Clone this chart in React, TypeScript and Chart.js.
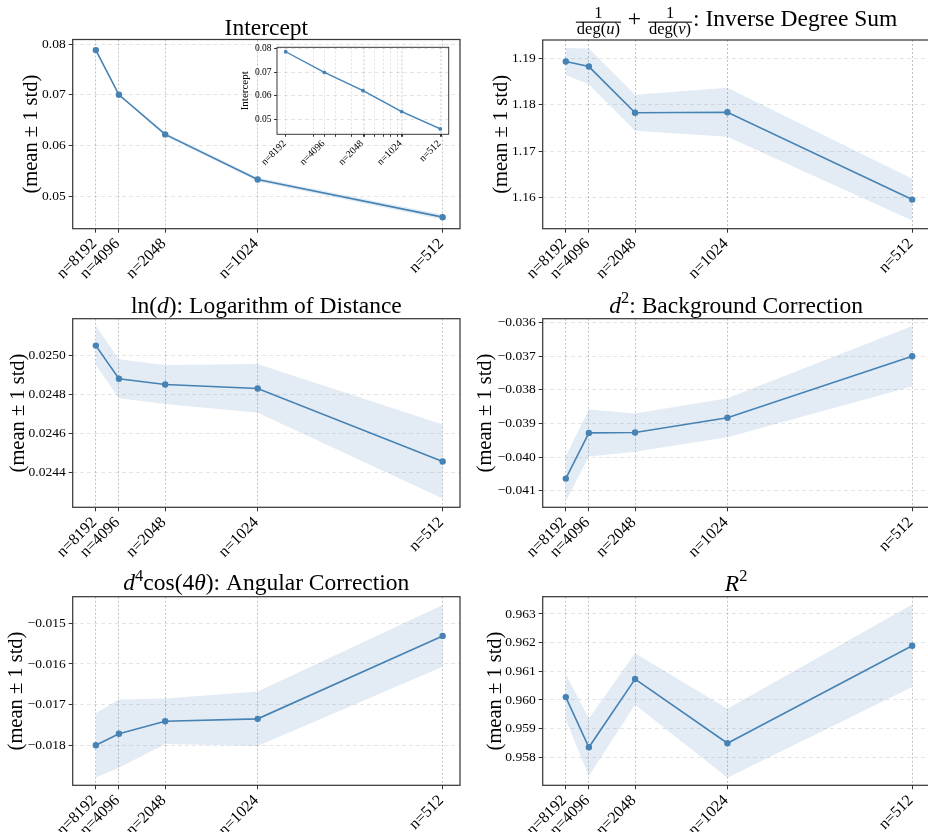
import React, { useEffect, useRef } from 'react';
import { Chart, registerables } from 'chart.js';

Chart.register(...registerables);

// ---------------- data ----------------
const nValues = [8192, 4096, 2048, 1024, 512];
const xLabels = ['n=8192', 'n=4096', 'n=2048', 'n=1024', 'n=512'];
const invN = nValues.map((n) => 1 / n);

const interceptMean = [0.0788, 0.07, 0.0622, 0.0533, 0.0459];
const interceptStd = [0.0002, 0.0002, 0.0003, 0.0004, 0.0005];

const invDegMean = [1.1894, 1.1883, 1.1783, 1.1784, 1.1595];
const invDegStd = [0.0029, 0.0039, 0.0039, 0.0053, 0.0045];

const lnDMean = [0.02505, 0.02488, 0.02485, 0.02483, 0.024455];
const lnDStd = [0.0001, 0.0001, 0.0001, 0.000125, 0.00019];

const d2Mean = [-0.04064, -0.03928, -0.03927, -0.03883, -0.037];
const d2Std = [0.00067, 0.0007, 0.00057, 0.00058, 0.0009];

const d4Mean = [-0.018, -0.017715, -0.01741, -0.01735, -0.01531];
const d4Std = [0.00079, 0.00084, 0.00056, 0.00067, 0.00076];

const r2Mean = [0.9601, 0.95835, 0.96073, 0.95849, 0.96189];
const r2Std = [0.0008, 0.001, 0.0009, 0.0012, 0.00144];

const yTicks1 = [0.05, 0.06, 0.07, 0.08];
const yLabels1 = ['0.05', '0.06', '0.07', '0.08'];
const yTicks2 = [1.16, 1.17, 1.18, 1.19];
const yLabels2 = ['1.16', '1.17', '1.18', '1.19'];
const yTicks3 = [0.0244, 0.0246, 0.0248, 0.025];
const yLabels3 = ['0.0244', '0.0246', '0.0248', '0.0250'];
const yTicks4 = [-0.041, -0.04, -0.039, -0.038, -0.037, -0.036];
const yLabels4 = ['\u22120.041', '\u22120.040', '\u22120.039', '\u22120.038', '\u22120.037', '\u22120.036'];
const yTicks5 = [-0.018, -0.017, -0.016, -0.015];
const yLabels5 = ['\u22120.018', '\u22120.017', '\u22120.016', '\u22120.015'];
const yTicks6 = [0.958, 0.959, 0.96, 0.961, 0.962, 0.963];
const yLabels6 = ['0.958', '0.959', '0.960', '0.961', '0.962', '0.963'];

const insetYTicks = [0.05, 0.06, 0.07, 0.08];
const insetYLabels = ['0.05', '0.06', '0.07', '0.08'];
const insetMinorX = [2e-4, 3e-4, 4e-4, 5e-4, 6e-4, 7e-4, 8e-4, 9e-4, 1e-3, 2e-3];

const yLabelText = '(mean \u00b1 1 std)';

// ---------------- style / layout ----------------
const FONT = '"Liberation Serif", "Times New Roman", serif';
const LINE = '#4682B4';
const BAND = 'rgba(70,130,180,0.15)';
const CW = 940;
const CH = 900;
const X_MAX_MAIN = 16.75 / 8192;

type Seg = { t?: string; it?: boolean; sup?: boolean; frac?: [Seg[], Seg[]] };

type PanelCfg = {
  mean: number[];
  std: number[];
  rect: [number, number, number, number]; // left, top, right, bottom
  yMin: number;
  yMax: number;
  yTicks: number[];
  yLabels: string[];
  title?: Seg[];
  titleY?: number;
  ylabel: string;
  ylabelX: number;
  ylabelSize: number;
};

const panels: PanelCfg[] = [
  {
    mean: interceptMean, std: interceptStd, rect: [72.7, 39.5, 460, 228.7],
    yMin: 0.04362, yMax: 0.08089, yTicks: yTicks1, yLabels: yLabels1,
    title: [{ t: 'Intercept' }], titleY: 35, ylabel: yLabelText, ylabelX: 31.7, ylabelSize: 20.5,
  },
  {
    mean: invDegMean, std: invDegStd, rect: [542.7, 40, 929.5, 228.7],
    yMin: 1.1532, yMax: 1.19405, yTicks: yTicks2, yLabels: yLabels2,
    title: [
      { frac: [[{ t: '1' }], [{ t: 'deg(' }, { t: 'u', it: true }, { t: ')' }]] },
      { t: ' + ' },
      { frac: [[{ t: '1' }], [{ t: 'deg(' }, { t: 'v', it: true }, { t: ')' }]] },
      { t: ': Inverse Degree Sum' },
    ],
    titleY: 26, ylabel: yLabelText, ylabelX: 501.3, ylabelSize: 20.5,
  },
  {
    mean: lnDMean, std: lnDStd, rect: [72.7, 318.7, 460, 507.3],
    yMin: 0.02422, yMax: 0.025188, yTicks: yTicks3, yLabels: yLabels3,
    title: [{ t: 'ln(' }, { t: 'd', it: true }, { t: '): Logarithm of Distance' }],
    titleY: 312.7, ylabel: yLabelText, ylabelX: 18.3, ylabelSize: 20.5,
  },
  {
    mean: d2Mean, std: d2Std, rect: [542.7, 318.7, 929.5, 507.3],
    yMin: -0.041494, yMax: -0.035881, yTicks: yTicks4, yLabels: yLabels4,
    title: [{ t: 'd', it: true }, { t: '2', sup: true }, { t: ': Background Correction' }],
    titleY: 312.7, ylabel: yLabelText, ylabelX: 485.7, ylabelSize: 20.5,
  },
  {
    mean: d4Mean, std: d4Std, rect: [72.7, 596.7, 460, 785.3],
    yMin: -0.018984, yMax: -0.014346, yTicks: yTicks5, yLabels: yLabels5,
    title: [
      { t: 'd', it: true }, { t: '4', sup: true }, { t: 'cos(4' }, { t: '\u03b8', it: true },
      { t: '): Angular Correction' },
    ],
    titleY: 590, ylabel: yLabelText, ylabelX: 16.5, ylabelSize: 20.5,
  },
  {
    mean: r2Mean, std: r2Std, rect: [542.7, 596.7, 929.5, 785.3],
    yMin: 0.957023, yMax: 0.963603, yTicks: yTicks6, yLabels: yLabels6,
    title: [{ t: 'R', it: true }, { t: '2', sup: true }],
    titleY: 590.7, ylabel: yLabelText, ylabelX: 495.3, ylabelSize: 20.5,
  },
];

const TITLE_SIZE = 23.5;
const FRAC_SIZE = 16.5;

function segFont(size: number, it?: boolean) {
  return `${it ? 'italic ' : ''}${size}px ${FONT}`;
}

function measureSegs(ctx: CanvasRenderingContext2D, segs: Seg[], size: number): number {
  let w = 0;
  for (const s of segs) {
    if (s.frac) {
      const wn = measureSegs(ctx, s.frac[0], FRAC_SIZE);
      const wd = measureSegs(ctx, s.frac[1], FRAC_SIZE);
      w += Math.max(wn, wd) + 4;
    } else {
      ctx.font = segFont(s.sup ? size * 0.7 : size, s.it);
      w += ctx.measureText(s.t || '').width;
    }
  }
  return w;
}

function drawSegs(ctx: CanvasRenderingContext2D, segs: Seg[], x0: number, y: number, size: number) {
  let x = x0;
  for (const s of segs) {
    if (s.frac) {
      const wn = measureSegs(ctx, s.frac[0], FRAC_SIZE);
      const wd = measureSegs(ctx, s.frac[1], FRAC_SIZE);
      const fw = Math.max(wn, wd) + 4;
      drawSegs(ctx, s.frac[0], x + (fw - wn) / 2, y - 8.5, FRAC_SIZE);
      drawSegs(ctx, s.frac[1], x + (fw - wd) / 2, y + 7.8, FRAC_SIZE);
      ctx.fillRect(x + 1, y - 4.4, fw - 2, 1.1);
      x += fw;
    } else {
      const fs = s.sup ? size * 0.7 : size;
      ctx.font = segFont(fs, s.it);
      ctx.textAlign = 'left';
      ctx.textBaseline = 'alphabetic';
      ctx.fillText(s.t || '', x, s.sup ? y - size * 0.4 : y);
      x += ctx.measureText(s.t || '').width;
    }
  }
}

function findLabel(v: number, vals: number[], labels: string[]) {
  for (let i = 0; i < vals.length; i++) {
    if (Math.abs(v - vals[i]) <= Math.abs(vals[i]) * 1e-6 + 1e-12) return labels[i];
  }
  return '';
}

function buildConfig(p: PanelCfg, insetMode: boolean): any {
  const pts = (arr: number[]) => arr.map((y, i) => ({ x: invN[i], y }));
  const upper = p.mean.map((m, i) => m + p.std[i]);
  const lower = p.mean.map((m, i) => m - p.std[i]);
  const [L, T, R, B] = p.rect;
  const xTickVals = insetMode ? [...invN, ...insetMinorX] : invN;
  const yAxisW = insetMode ? 30 : 70;
  const xAxisH = insetMode ? 40 : 80;

  return {
    type: 'line',
    data: {
      datasets: [
        {
          data: pts(p.mean),
          borderColor: LINE,
          borderWidth: insetMode ? 1.3 : 1.6,
          pointRadius: insetMode ? 1.9 : 3.2,
          pointHoverRadius: insetMode ? 1.9 : 3.2,
          pointBackgroundColor: LINE,
          pointBorderWidth: 0,
          fill: false,
          order: 0,
        },
        {
          data: pts(upper),
          borderColor: 'transparent',
          pointRadius: 0,
          pointHoverRadius: 0,
          fill: '+1',
          backgroundColor: BAND,
          order: 1,
        },
        {
          data: pts(lower),
          borderColor: 'transparent',
          pointRadius: 0,
          pointHoverRadius: 0,
          fill: false,
          order: 2,
        },
      ],
    },
    options: {
      animation: false,
      responsive: false,
      devicePixelRatio: 1,
      events: [],
      layout: {
        padding: { left: L - yAxisW, top: T, right: CW - R, bottom: CH - B - xAxisH },
        autoPadding: false,
      },
      plugins: { legend: { display: false }, title: { display: false }, tooltip: { enabled: false } },
      scales: {
        x: {
          type: insetMode ? 'logarithmic' : 'linear',
          min: insetMode ? (1 / 8192) * Math.pow(2, -0.225) : 0,
          max: insetMode ? (1 / 512) * Math.pow(2, 0.217) : X_MAX_MAIN,
          bounds: 'data',
          afterBuildTicks: (s: any) => {
            s.ticks = xTickVals.map((v) => ({ value: v }));
          },
          afterFit: (s: any) => {
            s.height = xAxisH;
          },
          ticks: {
            autoSkip: false,
            minRotation: 45,
            maxRotation: 45,
            padding: insetMode ? 1 : 2,
            labelOffset: insetMode ? -1 : -1.5,
            color: '#000',
            font: { family: FONT, size: insetMode ? 10 : 16 },
            callback: (v: any) => findLabel(Number(v), invN, xLabels),
          },
          grid: {
            color: insetMode ? 'rgba(0,0,0,0.14)' : 'rgba(0,0,0,0.3)',
            lineWidth: 0.8,
            tickLength: insetMode ? 2.5 : 4,
            tickColor: '#000',
            tickWidth: 0.8,
          },
          border: { display: false, dash: [2, 2] },
        },
        y: {
          type: 'linear',
          min: p.yMin,
          max: p.yMax,
          afterBuildTicks: (s: any) => {
            s.ticks = p.yTicks.map((v) => ({ value: v }));
          },
          afterFit: (s: any) => {
            s.width = yAxisW;
          },
          ticks: {
            autoSkip: false,
            padding: insetMode ? 2.5 : 3,
            color: '#000',
            font: { family: FONT, size: insetMode ? 9.5 : 13.5 },
            callback: (v: any) => findLabel(Number(v), p.yTicks, p.yLabels),
          },
          grid: {
            color: 'rgba(0,0,0,0.13)',
            lineWidth: 0.8,
            tickLength: insetMode ? 3 : 4,
            tickColor: '#000',
            tickWidth: 0.8,
          },
          border: { display: false, dash: [4, 3] },
        },
      },
    },
    plugins: [
      {
        id: 'decor',
        beforeDraw(chart: any) {
          if (!insetMode) return;
          const { ctx, chartArea: a } = chart;
          ctx.save();
          ctx.fillStyle = '#fff';
          ctx.fillRect(a.left, a.top, a.right - a.left, a.bottom - a.top);
          ctx.restore();
        },
        afterDatasetsDraw(chart: any) {
          const { ctx, chartArea: a } = chart;
          ctx.save();
          ctx.strokeStyle = '#3a3a3a';
          ctx.lineWidth = insetMode ? 1 : 1.25;
          ctx.strokeRect(a.left, a.top, a.right - a.left, a.bottom - a.top);
          ctx.restore();
        },
        afterDraw(chart: any) {
          const { ctx, chartArea: a } = chart;
          ctx.save();
          ctx.fillStyle = '#000';
          if (p.title) {
            const w = measureSegs(ctx, p.title, TITLE_SIZE);
            const cx = (a.left + a.right) / 2;
            drawSegs(ctx, p.title, cx - w / 2, p.titleY as number, TITLE_SIZE);
          }
          ctx.translate(p.ylabelX, (a.top + a.bottom) / 2);
          ctx.rotate(-Math.PI / 2);
          ctx.font = segFont(p.ylabelSize);
          ctx.textAlign = 'center';
          ctx.textBaseline = 'middle';
          ctx.fillText(p.ylabel, 0, 0);
          ctx.restore();
        },
      },
    ],
  };
}

const insetPanel: PanelCfg = {
  mean: interceptMean,
  std: interceptStd,
  rect: [277, 47.3, 448.7, 134.3],
  yMin: 0.0436,
  yMax: 0.0807,
  yTicks: insetYTicks,
  yLabels: insetYLabels,
  ylabel: 'Intercept',
  ylabelX: 245,
  ylabelSize: 11,
};

function ChartCanvas({ cfg, inset }: { cfg: PanelCfg; inset: boolean }) {
  const ref = useRef<HTMLCanvasElement>(null);
  useEffect(() => {
    if (!ref.current) return;
    const chart = new Chart(ref.current, buildConfig(cfg, inset));
    return () => chart.destroy();
  }, [cfg, inset]);
  return (
    <canvas
      ref={ref}
      width={CW}
      height={CH}
      style={{ position: 'absolute', left: 0, top: 0, width: CW, height: CH }}
    />
  );
}

export default function App() {
  return (
    <div
      style={{
        position: 'absolute',
        left: 0,
        top: 0,
        width: 928,
        height: 832,
        overflow: 'hidden',
        background: '#fff',
      }}
    >
      {panels.map((p, i) => (
        <ChartCanvas key={i} cfg={p} inset={false} />
      ))}
      <ChartCanvas cfg={insetPanel} inset={true} />
    </div>
  );
}
